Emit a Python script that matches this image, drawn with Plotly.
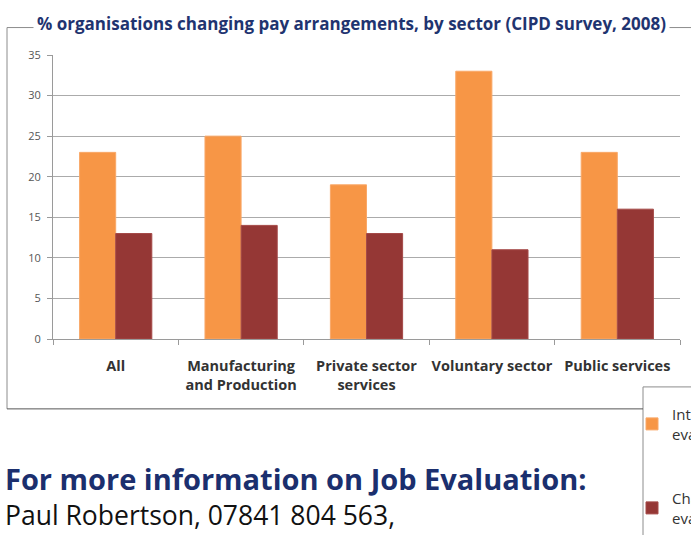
import plotly.graph_objects as go

categories = ["All", "Manufacturing<br>and Production", "Private sector<br>services",
              "Voluntary sector", "Public services"]
introduced = [23, 25, 19, 33, 23]
changed = [13, 14, 13, 11, 16]
series_names = ["Introduced job<br>evaluation", "Changed job<br>evaluation"]
y_ticks = [0, 5, 10, 15, 20, 25, 30, 35]

W, H = 691, 535
L, R, T, B = 53, 680, 54.5, 339
pw, ph = R - L, B - T

def px(x):
    return (x - L) / pw

def py(y):
    return (B - y) / ph

fig = go.Figure()
fig.add_trace(go.Bar(x=categories, y=introduced, name=series_names[0],
                     marker=dict(color="#F79646", line=dict(color="#F9A868", width=1)),
                     legendgroup="a"))
fig.add_trace(go.Bar(x=categories, y=changed, name=series_names[1],
                     marker=dict(color="#953735", line=dict(color="#A54A48", width=1)),
                     legendgroup="b"))

grey = "#9A9A9A"
shapes = [
    # outer frame
    dict(type="line", xref="paper", yref="paper", x0=px(7), x1=px(7), y0=py(27), y1=py(409),
         line=dict(color="#8C8C8C", width=1)),
    dict(type="line", xref="paper", yref="paper", x0=px(7), x1=px(700), y0=py(27), y1=py(27),
         line=dict(color="#8C8C8C", width=1)),
    dict(type="line", xref="paper", yref="paper", x0=px(7), x1=px(643), y0=py(409), y1=py(409),
         line=dict(color="#555555", width=1)),
    # legend frame
    dict(type="rect", xref="paper", yref="paper", x0=px(643), x1=px(720), y0=py(387), y1=py(560),
         line=dict(color="#8C8C8C", width=1), fillcolor="white", layer="below"),
]

annotations = [
    dict(text="<b>% organisations changing pay arrangements, by sector (CIPD survey, 2008)</b>",
         xref="paper", yref="paper", x=px(351), y=py(23), xanchor="center", yanchor="middle",
         showarrow=False, bgcolor="white", borderpad=3,
         font=dict(family="Open Sans", size=17, color="#1F3470")),
    dict(text="<b>For more information on Job Evaluation:</b>",
         xref="paper", yref="paper", x=px(3), y=py(479), xanchor="left", yanchor="middle",
         showarrow=False, font=dict(family="Open Sans", size=29, color="#1B2F6E")),
    dict(text="Paul Robertson, 07841 804 563,",
         xref="paper", yref="paper", x=px(3), y=py(515), xanchor="left", yanchor="middle",
         showarrow=False, font=dict(family="Open Sans", size=26.5, color="#111111")),
]

fig.update_layout(
    width=W, height=H,
    margin=dict(l=L, r=W - R, t=T, b=H - B, autoexpand=False),
    paper_bgcolor="white", plot_bgcolor="white",
    barmode="group", bargap=0.424, bargroupgap=0,
    showlegend=True,
    legend=dict(x=px(632), y=py(398), xanchor="left", yanchor="top",
                bgcolor="rgba(0,0,0,0)", borderwidth=0,
                font=dict(family="Open Sans", size=15, color="#333333"),
                tracegroupgap=42, traceorder="grouped"),
    shapes=shapes,
    annotations=annotations,
    xaxis=dict(showline=True, linecolor=grey, linewidth=1, ticks="outside",
               tickson="boundaries", ticklen=5, tickcolor=grey,
               ticklabelstandoff=14, tickangle=0,
               tickfont=dict(family="Open Sans", size=14.5, color="#333333"),
               showgrid=False, fixedrange=True),
    yaxis=dict(range=[0, 35], tickvals=y_ticks, showline=True, linecolor=grey, linewidth=1,
               ticks="outside", ticklen=5, tickcolor=grey, ticklabelstandoff=4,
               gridcolor="#ABABAB", gridwidth=1, zeroline=False,
               tickfont=dict(family="Open Sans", size=11, color="#555555"),
               fixedrange=True),
)

# bold category labels
fig.update_xaxes(tickvals=categories, ticktext=["<b>" + c + "</b>" for c in categories])

fig.write_html("out.html")
